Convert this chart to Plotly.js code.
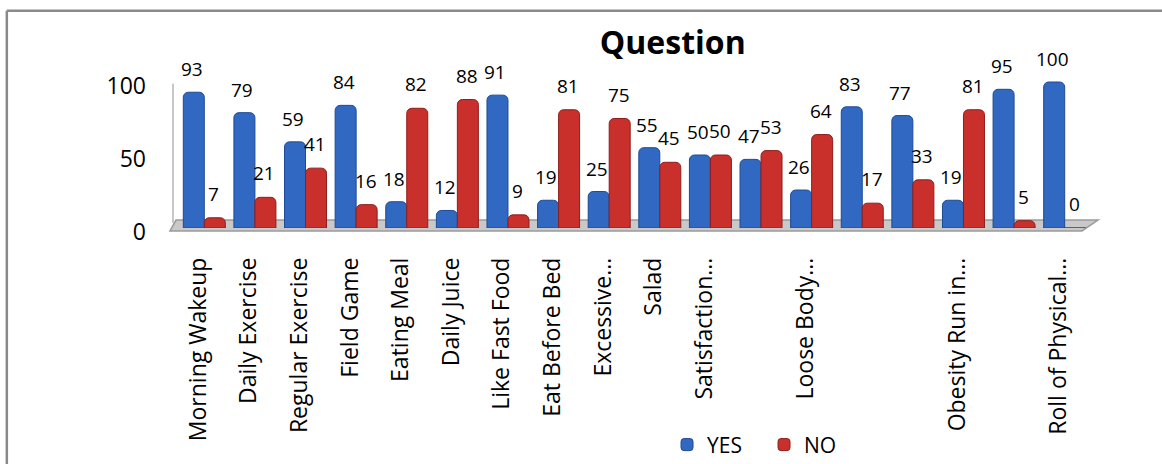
<!DOCTYPE html>
<html>
<head>
<meta charset="utf-8">
<script src="https://cdn.plot.ly/plotly-3.0.1.min.js"></script>
<style>
html,body{margin:0;padding:0;background:#fff;}
#chart{width:1162px;height:464px;}
</style>
</head>
<body>
<div id="chart"></div>
<script>
const categories = ["Morning Wakeup","Daily Exercise","Regular Exercise","Field Game","Eating Meal","Daily Juice","Like Fast Food","Eat Before Bed","Excessive...","Salad","Satisfaction...","","Loose Body...","","","Obesity Run in...","","Roll of Physical..."];
const yesValues = [93,79,59,84,18,12,91,19,25,55,50,47,26,83,77,19,95,100];
const noValues  = [7,21,41,16,82,88,9,81,75,45,50,53,64,17,33,81,5,0];
const seriesNames = ["YES","NO"];

const idx = categories.map((_, i) => i);
const bargap = 0.17;
const half = (1 - bargap) / 4;

const blue = "#3169c2", blueEdge = "#1d4a96";
const red = "#c9302c", redEdge = "#8e1d1b";

const traces = [
  {type:"bar", name:seriesNames[0], x:idx, y:yesValues,
   marker:{color:blue, line:{color:blueEdge, width:1}}, hoverinfo:"y"},
  {type:"bar", name:seriesNames[1], x:idx, y:noValues,
   marker:{color:red, line:{color:redEdge, width:1}}, hoverinfo:"y"}
];

const annotations = [];
yesValues.forEach((v, i) => annotations.push({x:i - half, y:v, xref:"x", yref:"y", text:String(v),
  showarrow:false, yshift:23, xshift:-2, font:{size:19, color:"#000"}}));
noValues.forEach((v, i) => annotations.push({x:i + half, y:v, xref:"x", yref:"y", text:String(v),
  showarrow:false, yshift:24, xshift:-1, font:{size:19, color:"#000"}}));

const layout = {
  width:1162, height:464, autosize:false,
  margin:{l:179, r:72, t:62, b:236, autoexpand:false},
  paper_bgcolor:"#fff", plot_bgcolor:"rgba(0,0,0,0)",
  font:{family:"'Open Sans', 'DejaVu Sans', sans-serif", color:"#000"},
  title:{text:"<b>Question</b>", font:{size:32, color:"#000"}, xref:"paper", x:0.542, xanchor:"center",
         yref:"container", y:0.907, yanchor:"middle"},
  barmode:"group", bargap:bargap, bargroupgap:0, barcornerradius:5,
  showlegend:true,
  legend:{orientation:"h", x:0.5357, xanchor:"left", y:-1.307, yanchor:"middle",
          font:{size:21}, itemwidth:30, tracegroupgap:0, entrywidth:52, entrywidthmode:"pixels"},
  xaxis:{range:[-0.5, 17.5], tickmode:"array", tickvals:idx, ticktext:categories,
         tickangle:-90, tickfont:{size:23}, showgrid:false, zeroline:false, showline:false,
         ticks:"", ticklabelstandoff:24, ticklabelshift:-6, fixedrange:true, automargin:false},
  yaxis:{range:[0, 113.7], tickmode:"linear", tick0:0, dtick:50, tickfont:{size:23},
         showgrid:false, zeroline:false, showline:false, ticks:"", ticklabelstandoff:32,
         ticklabelshift:4, fixedrange:true, automargin:false},
  annotations:annotations,
  shapes:[
    // floor (3D platform)
    {type:"path", xref:"paper", yref:"paper", layer:"below",
     path:"M -0.0033,0.048 L 1.0088,0.048 L 0.9912,-0.018 L -0.0099,-0.018 Z",
     fillcolor:"#c9c9c9", line:{color:"#9a9a9a", width:1.5}},
    // left wall edge
    {type:"line", xref:"paper", yref:"paper", layer:"below", x0:-0.0066, x1:-0.0066, y0:0.03, y1:0.87,
     line:{color:"#c8c8c8", width:2}},
    // outer border
    {type:"line", xref:"paper", yref:"paper", x0:-0.189, x1:1.09, y0:1.3086, y1:1.3086,
     line:{color:"#8a8a8a", width:2.5}},
    {type:"line", xref:"paper", yref:"paper", x0:-0.189, x1:-0.189, y0:1.3086, y1:-1.43,
     line:{color:"#8a8a8a", width:2.5}}
  ]
};

Plotly.newPlot("chart", traces, layout, {displayModeBar:false, staticPlot:true});
</script>
</body>
</html>
